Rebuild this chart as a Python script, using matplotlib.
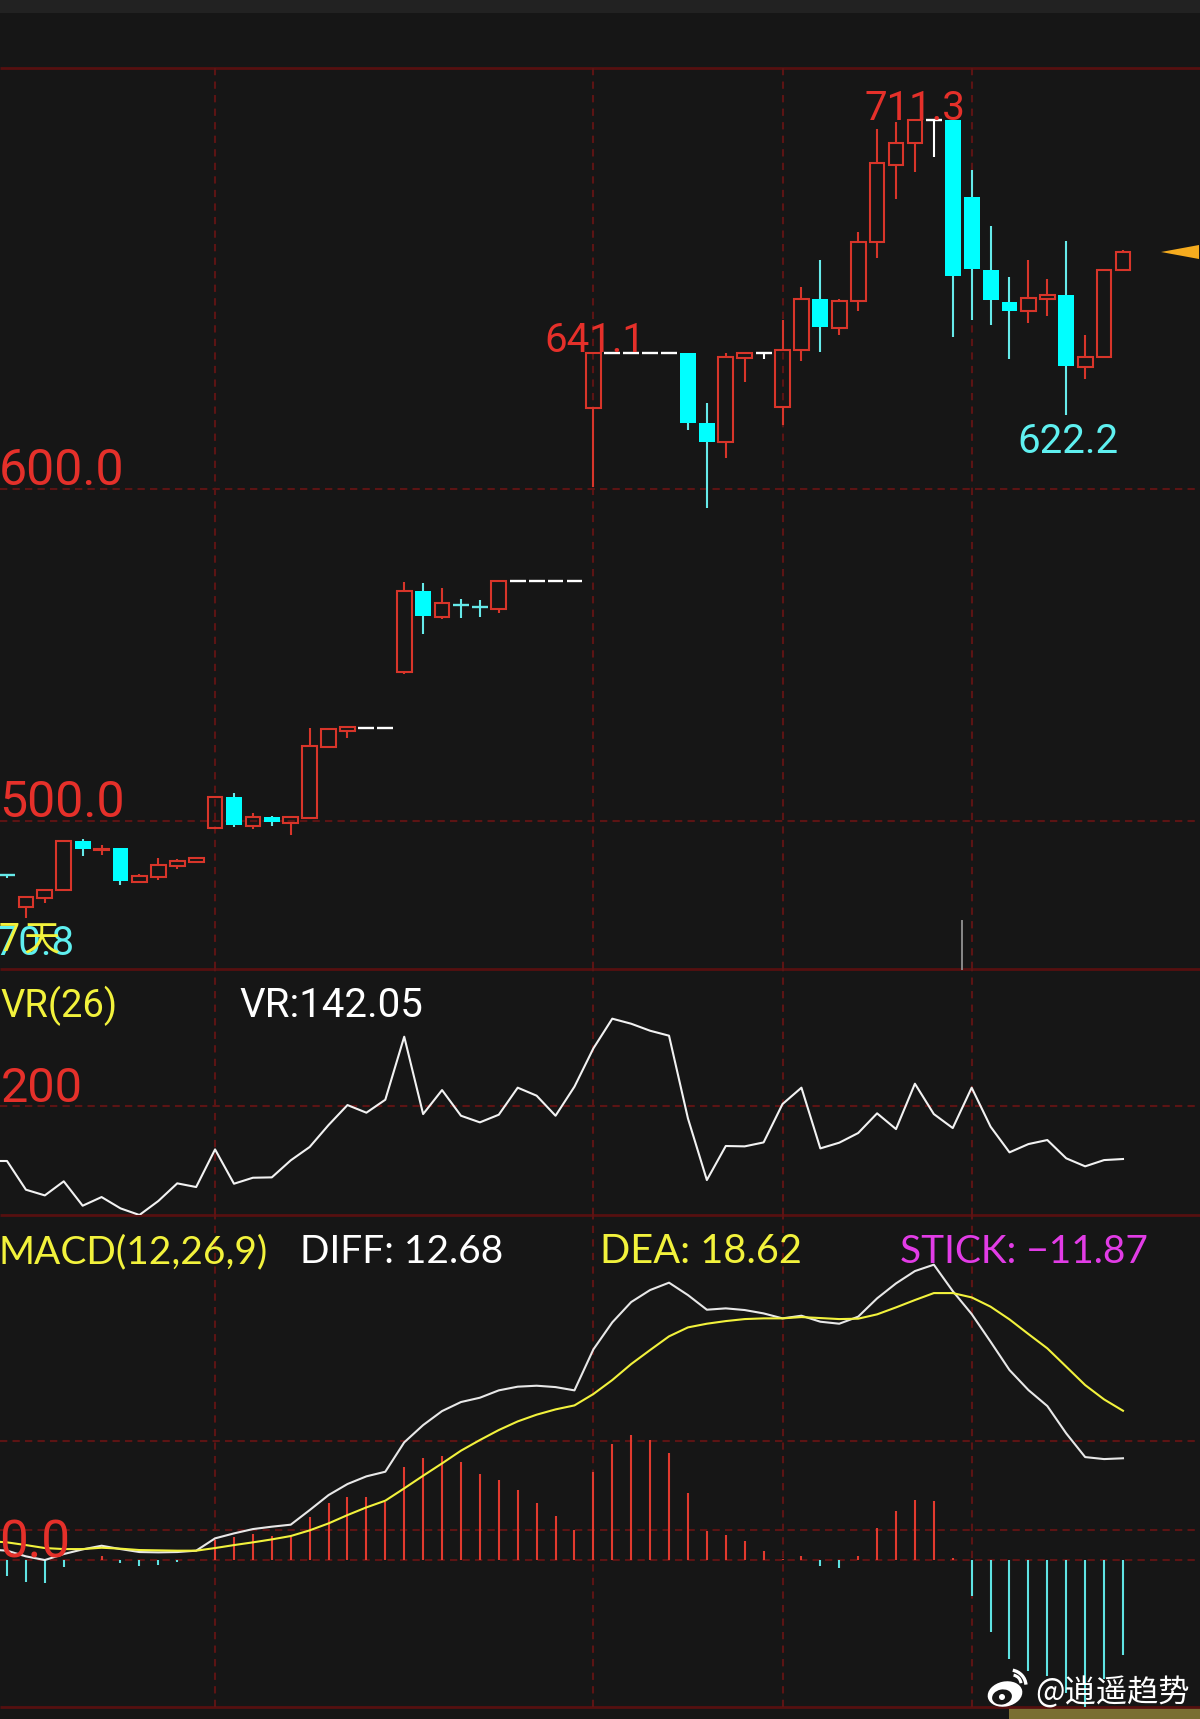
import matplotlib
matplotlib.use("Agg")
import matplotlib.pyplot as plt
from matplotlib.patches import Rectangle, Polygon, Ellipse, Arc, Circle

W = 1200
H = 1719

BG = '#161616'
RED = '#d8352a'
LABEL_RED = '#e5302a'
CYAN = '#00ffff'
WICK_CYAN = '#66eaea'
GRID = '#5c1414'
LINE = '#561010'
YELLOW = '#f2f23c'

# candles, one entry per session
opens = [483.8, 474.1, 476.8, 479.1, 493.8, 491.2, 491.7, 481.5, 483.1, 486.3,
         487.5, 497.9, 507.1, 498.4, 501.0, 499.4, 500.9, 522.3, 527.1, 527.9,
         527.9, 544.8, 569.2, 561.4, 565.3, 564.6, 563.9, 572.2, 572.2, 572.2,
         572.2, 624.5, 641.1, 641.1, 641.1, 641.1, 640.9, 619.8, 614.3, 639.6,
         641.1, 624.8, 641.8, 657.2, 648.6, 656.6, 674.3, 697.8, 704.2, 711.3,
         711.3, 687.9, 665.9, 656.3, 653.5, 657.4, 658.4, 636.7, 639.7, 665.9]
closes = [483.6, 477.1, 479.1, 494.0, 491.5, 491.6, 481.8, 483.4, 486.7, 488.0,
          488.7, 507.2, 498.7, 501.1, 499.5, 501.2, 522.6, 527.6, 528.2, 527.9,
          527.9, 569.3, 561.7, 565.7, 565.1, 564.4, 572.4, 572.2, 572.2, 572.2,
          572.2, 641.1, 641.1, 641.1, 641.1, 641.1, 619.9, 614.2, 639.9, 641.1,
          641.1, 641.9, 657.3, 648.8, 656.8, 674.5, 698.4, 704.2, 711.3, 711.3,
          664.2, 666.3, 657.0, 653.7, 657.7, 658.6, 637.1, 639.7, 666.0, 671.5]
highs = [483.8, 477.1, 479.1, 494.0, 494.5, 492.6, 491.7, 483.9, 488.7, 488.6,
         488.7, 507.5, 508.3, 502.2, 501.3, 501.3, 527.9, 527.9, 528.2, 527.9,
         527.9, 571.9, 571.6, 570.1, 566.7, 566.4, 572.4, 572.2, 572.2, 572.2,
         572.2, 641.1, 641.1, 641.1, 641.1, 641.1, 640.9, 625.8, 640.9, 641.1,
         641.1, 651.0, 660.8, 668.9, 657.4, 677.4, 708.4, 710.6, 711.3, 711.3,
         711.3, 696.2, 679.3, 663.9, 668.9, 663.2, 674.7, 646.3, 666.0, 672.0]
lows = [482.7, 470.8, 475.3, 479.1, 489.4, 489.7, 480.6, 481.1, 482.0, 485.4,
        487.5, 497.9, 498.0, 497.5, 498.4, 495.7, 500.9, 521.8, 524.9, 527.9,
        527.9, 544.2, 556.2, 560.7, 561.0, 561.3, 562.6, 572.2, 572.2, 572.2,
        572.2, 600.7, 641.1, 641.1, 641.1, 641.1, 617.8, 594.3, 609.3, 632.3,
        639.2, 619.3, 638.6, 641.3, 646.4, 653.8, 669.6, 687.4, 695.6, 700.0,
        645.8, 651.0, 649.4, 639.2, 650.0, 652.2, 622.2, 633.3, 639.7, 665.9]

# indicators start one session before the first candle, cut by the left edge
vr = [139.9, 139.9, 108.7, 102.5, 117.8, 91.3, 100.7, 88.4, 81.2, 96.4, 115.6,
      111.6, 152.5, 115.2, 121.7, 122.1, 140.6, 155.1, 179.0, 200.7, 192.4,
      206.5, 275.0, 190.9, 217.0, 189.1, 181.9, 190.2, 219.6, 210.9, 189.1,
      220.7, 262.3, 294.6, 289.1, 281.5, 276.1, 186.2, 119.2, 156.2, 155.8,
      160.1, 201.8, 219.6, 153.6, 159.8, 170.3, 191.7, 174.6, 223.9, 190.9,
      175.7, 219.6, 177.2, 149.3, 158.3, 162.7, 142.8, 134.1, 140.9, 142.05]
diff = [1.3, 1.13, 0.42, -0.04, 0.71, 1.29, 1.75, 1.33, 0.96, 0.92, 0.96, 1.13,
        2.67, 3.29, 3.83, 4.13, 4.38, 6.2, 8.08, 9.46, 10.42, 11.0, 14.67, 16.83,
        18.58, 19.71, 20.25, 21.17, 21.63, 21.75, 21.58, 21.17, 26.29, 29.67,
        32.21, 33.71, 34.63, 33.08, 31.25, 31.42, 31.21, 30.79, 30.17, 30.5,
        29.75, 29.5, 30.38, 32.67, 34.54, 36.08, 36.88, 33.58, 30.71, 27.25,
        23.71, 21.21, 19.21, 15.79, 12.83, 12.58, 12.68]
dea = [2.33, 2.17, 1.83, 1.46, 1.33, 1.33, 1.5, 1.38, 1.21, 1.17, 1.13, 1.13,
       1.46, 1.83, 2.17, 2.54, 2.96, 3.67, 4.54, 5.58, 6.54, 7.38, 8.92, 10.5,
       12.04, 13.63, 14.96, 16.21, 17.29, 18.13, 18.79, 19.29, 20.71, 22.46,
       24.46, 26.21, 27.92, 29.04, 29.5, 29.83, 30.08, 30.17, 30.17, 30.33,
       30.21, 30.08, 30.13, 30.67, 31.54, 32.46, 33.33, 33.33, 32.79, 31.63,
       30.04, 28.21, 26.42, 24.13, 21.83, 20.04, 18.62]
stick = [-2, -2.75, -2.9, -0.96, 0, 0.45, -0.35, -0.8, -0.65, -0.3, -0.05, 2.5,
         2.8, 3.2, 3, 2.9, 5.3, 7.05, 7.8, 7.8, 7.25, 11.63, 12.71, 13, 12.17,
         10.67, 9.96, 8.67, 7.13, 5.42, 3.75, 10.92, 14.5, 15.54, 14.96, 13.29,
         8.38, 3.63, 3.08, 2.29, 1.08, 0.05, 0.46, -0.8, -1.04, 0.5, 4, 6.13,
         7.46, 7.33, 0.25, -4.5, -9, -12.4, -13.9, -14.5, -16.7, -18.4, -14.9,
         -11.87]

grid_sessions = [11, 31, 41, 51]
price_grid = [600, 500]
vr_grid = [200]
macd_grid = [14.84, 3.75, 0]


def make_axes(top, bottom, ymin, ymax):
    # top and bottom in pixels from the top of the picture
    ax = fig.add_axes([0, 1 - bottom / H, 1, (bottom - top) / H])
    ax.set_xlim(-7 / 18.915, (W - 7) / 18.915)
    ax.set_ylim(ymin, ymax)
    ax.set_facecolor('none')
    ax.set_xticks([])
    ax.set_yticks([])
    for s in ax.spines.values():
        s.set_visible(False)
    for g in grid_sessions:
        ax.axvline(g, color=GRID, lw=1.5, ls=(0, (3.5, 3)), zorder=1)
    return ax


def hgrid(ax, levels):
    for lev in levels:
        ax.axhline(lev, color=GRID, lw=1.5, ls=(0, (3.5, 2.5)), zorder=1)


def label(x, y, s, color, size, ha='left', **kw):
    kw.setdefault('family', ['Roboto', 'DejaVu Sans'])
    fig.text(x / W, 1 - y / H, s, color=color, fontsize=size, ha=ha, va='baseline', **kw)


fig = plt.figure(figsize=(W / 100, H / 100), dpi=100, facecolor=BG)

# pixel layer for the frame and the bits that are not data
deco = fig.add_axes([0, 0, 1, 1])
deco.set_xlim(0, W)
deco.set_ylim(H, 0)
deco.axis('off')
deco.add_patch(Rectangle((0, 0), W, 13, color='#222222', lw=0))
for y in [68, 969, 1215, 1707]:
    deco.plot([0, W], [y, y], color=LINE, lw=2, solid_capstyle='butt')
deco.add_patch(Rectangle((1009, 1708.5), 191, 11, color='#7a6e32', lw=0))
deco.add_patch(Polygon([(1161, 252), (1199, 245), (1199, 259)], color='#f5ab1e', lw=0))
deco.plot([962, 962], [921, 969], color='#8a8a8a', lw=1.4)

# candles
ax = make_axes(68, 969, 455.3, 726.9)
hgrid(ax, price_grid)
for i in range(len(opens)):
    o, c, h, l = opens[i], closes[i], highs[i], lows[i]
    top = max(o, c)
    bot = min(o, c)
    if c == o:
        col, wick = 'white', 'white'
        ax.plot([i - 0.42, i + 0.42], [c, c], color=col, lw=1.7, solid_capstyle='butt', zorder=3)
    elif c > o:
        col, wick = RED, RED
        ax.add_patch(Rectangle((i - 0.39, bot), 0.78, top - bot, fill=False, edgecolor=col, lw=1.5, zorder=3))
    else:
        col, wick = CYAN, WICK_CYAN
        if top - bot < 0.5:
            ax.plot([i - 0.42, i + 0.42], [c, c], color=wick, lw=1.7, solid_capstyle='butt', zorder=3)
        else:
            ax.add_patch(Rectangle((i - 0.42, bot), 0.84, top - bot, color=col, lw=0, zorder=3))
    if h > top:
        ax.plot([i, i], [top, h], color=wick, lw=1.5, solid_capstyle='butt', zorder=2)
    if l < bot:
        ax.plot([i, i], [bot, l], color=wick, lw=1.5, solid_capstyle='butt', zorder=2)

# VR panel
ax2 = make_axes(969, 1215, 81.2, 348.6)
hgrid(ax2, vr_grid)
ax2.plot(range(-1, len(vr) - 1), vr, color='#f2f2f2', lw=1.5, zorder=3)

# MACD panel
ax3 = make_axes(1215, 1707, -18.41, 43.09)
hgrid(ax3, macd_grid)
for i in range(len(stick)):
    if stick[i] >= 0:
        ax3.plot([i, i], [0, stick[i]], color='#e23a2e', lw=1.5, solid_capstyle='butt', zorder=2)
    else:
        ax3.plot([i, i], [0, stick[i]], color='#5fe3e3', lw=1.5, solid_capstyle='butt', zorder=2)
ax3.plot(range(-1, len(diff) - 1), diff, color='#e8e8e8', lw=1.5, zorder=3)
ax3.plot(range(-1, len(dea) - 1), dea, color=YELLOW, lw=1.5, zorder=4)

# labels
label(-1, 485, '600.0', LABEL_RED, 36)
label(-1, 817, '500.0', LABEL_RED, 36)
label(1, 1102, '200', LABEL_RED, 35)
label(-1, 1557, '0.0', LABEL_RED, 37)
label(544, 352, '641.1', LABEL_RED, 29)
label(865, 120, '711.3', LABEL_RED, 29)
label(1017, 453, '622.2', '#5ff0f0', 29)
label(75, 955, '470.8', '#5ff0f0', 29, ha='right')
label(20, 951, '7', YELLOW, 27, ha='right')
label(23, 951, '天', YELLOW, 26, family=['Noto Sans CJK SC', 'DejaVu Sans'])
label(0, 1017, 'VR(26)', YELLOW, 27.5)
label(239, 1017, 'VR:142.05', 'white', 29)

label(-1, 1263, 'MACD(12,26,9)', YELLOW, 28, family=['Lato'])
label(300, 1263, 'DIFF: 12.68', 'white', 28, family=['Lato'])
label(600, 1263, 'DEA: 18.62', YELLOW, 28.6, family=['Lato'])
label(900, 1263, 'STICK: −11.87', '#e23ce6', 28, family=['Lato'])

# watermark
label(1035, 1703, '@逍遥趋势', 'white', 22.5, family=['Noto Sans CJK SC', 'DejaVu Sans'])
deco.add_patch(Ellipse((1005, 1694), 35, 25, angle=-12, color='white', lw=0, zorder=5))
deco.add_patch(Ellipse((1002, 1697), 20, 15, angle=-12, color=BG, lw=0, zorder=6))
deco.add_patch(Circle((1002, 1697), 3, color='white', lw=0, zorder=7))
deco.add_patch(Arc((1010, 1686), 32, 32, theta1=-80, theta2=-5, color='white', lw=2.4, zorder=5))
deco.add_patch(Arc((1012, 1684), 18, 18, theta1=-80, theta2=-5, color='white', lw=2.2, zorder=5))

fig.savefig('out.png', dpi=100, facecolor=BG)
